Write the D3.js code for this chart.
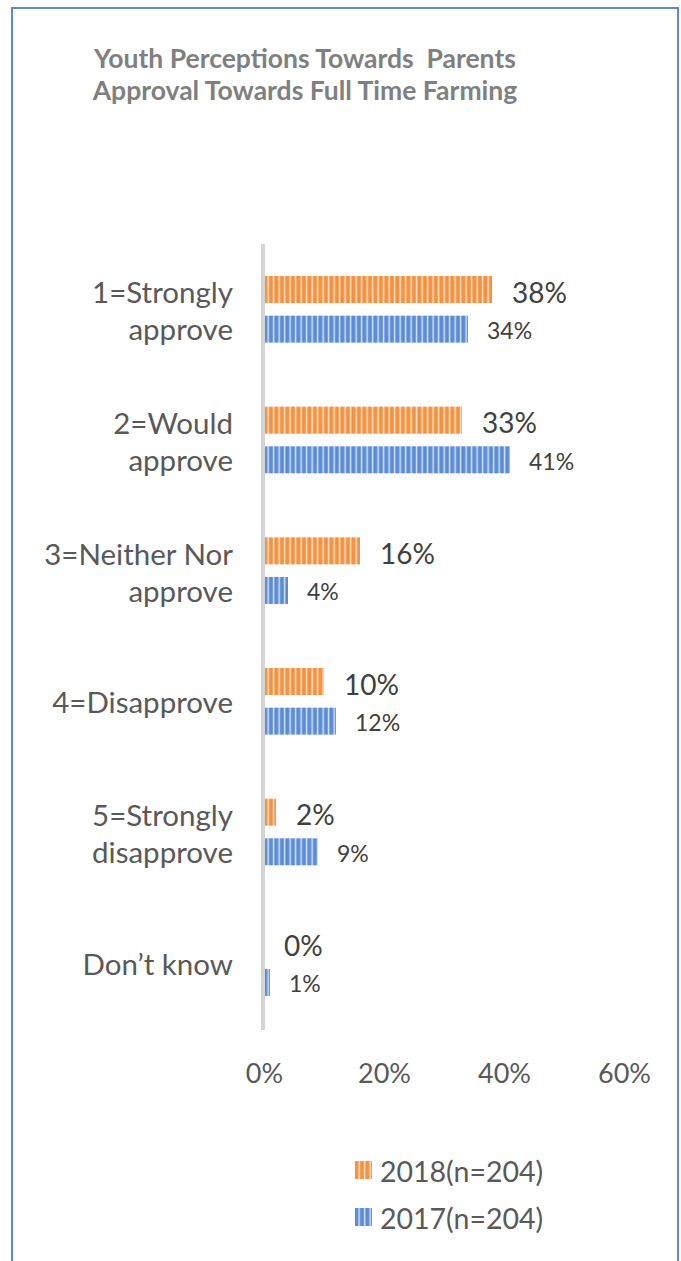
<!DOCTYPE html>
<html>
<head>
<meta charset="utf-8">
<script src="https://cdn.jsdelivr.net/npm/d3@7/dist/d3.min.js"></script>
<style>
  html, body { margin: 0; padding: 0; background: #ffffff; }
  svg { display: block; }
  text { font-family: Lato, "Open Sans", sans-serif; }
</style>
</head>
<body>
<svg id="chart" width="681" height="1261"></svg>
<script>
// Survey responses, share of respondents (%)
const categories = [
  ["1=Strongly", "approve"],
  ["2=Would", "approve"],
  ["3=Neither Nor", "approve"],
  ["4=Disapprove"],
  ["5=Strongly", "disapprove"],
  ["Don\u2019t know"]
];
const seriesNames = ["2018(n=204)", "2017(n=204)"];
const values2018 = [38, 33, 16, 10, 2, 0];
const values2017 = [34, 41, 4, 12, 9, 1];
const xTicks = [0, 20, 40, 60];
const titleLines = ["Youth Perceptions Towards  Parents", "Approval Towards Full Time Farming"];

const svg = d3.select("#chart");
const W = 681, H = 1261;

// striped fills
const defs = svg.append("defs");
function stripes(id, dark, light) {
  const g = defs.append("linearGradient").attr("id", id + "-g")
    .attr("x1", "0").attr("x2", "1").attr("y1", "0").attr("y2", "0");
  g.append("stop").attr("offset", "0%").attr("stop-color", dark);
  g.append("stop").attr("offset", "50%").attr("stop-color", light);
  g.append("stop").attr("offset", "100%").attr("stop-color", dark);
  const p = defs.append("pattern").attr("id", id)
    .attr("patternUnits", "userSpaceOnUse")
    .attr("width", 5.5).attr("height", 10);
  p.append("rect").attr("width", 5.5).attr("height", 10).attr("fill", dark);
  p.append("rect").attr("x", 2.8).attr("width", 2.7).attr("height", 10).attr("fill", `url(#${id}-g)`);
}
stripes("orangeStripe", "#F5913F", "#FDE6D4");
stripes("blueStripe", "#5B8CD6", "#D9E5F6");
const fills = ["url(#orangeStripe)", "url(#blueStripe)"];

// outer frame
svg.append("rect")
  .attr("x", 12).attr("y", 8)
  .attr("width", 666).attr("height", H + 20)
  .attr("fill", "none").attr("stroke", "#5B8BD0").attr("stroke-width", 2);

// title
svg.append("g").selectAll("text").data(titleLines).join("text")
  .attr("x", 305).attr("y", (d, i) => 68 + i * 32)
  .attr("text-anchor", "middle")
  .attr("font-size", 26.5).attr("font-weight", "bold")
  .attr("fill", "#808080")
  .style("white-space", "pre")
  .text(d => d);

// scales
const x = d3.scaleLinear().domain([0, 60]).range([264, 624]);
const y = d3.scaleBand().domain(d3.range(categories.length))
  .range([244, 1028]).paddingInner(0.49).paddingOuter(0.245);
const ySub = d3.scaleBand().domain([0, 1]).range([0, y.bandwidth()]).paddingInner(0.318);

const rows = categories.map((c, i) => ({ i, label: c, vals: [values2018[i], values2017[i]] }));

// bars
const groups = svg.append("g").selectAll("g").data(rows).join("g")
  .attr("transform", d => `translate(0,${y(d.i)})`);

groups.selectAll("rect").data(d => d.vals.map((v, s) => ({ v, s }))).join("rect")
  .attr("x", x(0))
  .attr("y", d => ySub(d.s))
  .attr("width", d => x(d.v) - x(0))
  .attr("height", ySub.bandwidth())
  .attr("fill", d => fills[d.s]);

// value labels
groups.selectAll("text.val").data(d => d.vals.map((v, s) => ({ v, s }))).join("text")
  .attr("class", "val")
  .attr("x", d => x(d.v) + (d.s === 0 ? 20 : 19))
  .attr("y", d => ySub(d.s) + ySub.bandwidth() / 2 + (d.s === 0 ? 13 : 10))
  .attr("font-size", d => d.s === 0 ? 28 : 23)
  .attr("fill", "#404040")
  .text(d => d.v + "%");

// category labels
const catG = svg.append("g").selectAll("text").data(rows).join("text")
  .attr("text-anchor", "end")
  .attr("font-size", 29.5)
  .attr("fill", "#595959");
catG.each(function (d) {
  const t = d3.select(this);
  const cy = y(d.i) + y.bandwidth() / 2;
  const n = d.label.length;
  d.label.forEach((line, k) => {
    t.append("tspan")
      .attr("x", 233)
      .attr("y", n === 1 ? cy + 12 : cy - 6 + k * 37)
      .text(line);
  });
});

// vertical category axis line
svg.append("line")
  .attr("x1", 263).attr("x2", 263)
  .attr("y1", 244).attr("y2", 1030)
  .attr("stroke", "#D4D4D4").attr("stroke-width", 4);

// value axis
const xAxis = d3.axisBottom(x).tickValues(xTicks).tickFormat(d => d + "%").tickSize(0);
const axG = svg.append("g").attr("transform", "translate(0,1060)").call(xAxis);
axG.select(".domain").remove();
axG.selectAll("text")
  .attr("y", 23).attr("dy", null)
  .attr("font-size", 27)
  .attr("font-family", "Lato, sans-serif")
  .attr("fill", "#595959");

// legend
const leg = svg.append("g").selectAll("g").data(seriesNames).join("g")
  .attr("transform", (d, i) => `translate(355,${1161 + i * 47})`);
leg.append("rect").attr("width", 17).attr("height", 18).attr("fill", (d, i) => fills[i]);
leg.append("text").attr("x", 25).attr("y", 21)
  .attr("font-size", 28.5).attr("fill", "#595959")
  .text(d => d);
</script>
</body>
</html>
